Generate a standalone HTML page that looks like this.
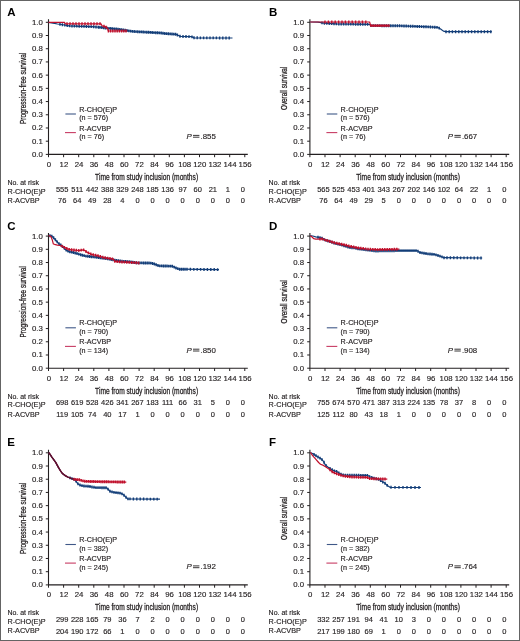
<!DOCTYPE html><html><head><meta charset="utf-8"><style>html,body{margin:0;padding:0;background:#fff;}svg{display:block;will-change:transform}text{stroke:#231f20;stroke-width:0.15px}text.t2{stroke-width:0.28px}text.pl{stroke:none}</style></head><body>
<svg width="520" height="641" viewBox="0 0 520 641" font-family='"Liberation Sans", sans-serif'>
<rect x="0" y="0" width="520" height="641" fill="#fff"/>
<g transform="translate(0.00 0.00)">
<text x="7.20" y="15.90" font-size="11.5" font-weight="bold" fill="#000" class="pl">A</text>
<path d="M48.50 19.30 V154.40 H247.79" fill="none" stroke="#231f20" stroke-width="1.1"/>
<line x1="45.80" y1="154.40" x2="48.50" y2="154.40" stroke="#231f20" stroke-width="1"/>
<text x="42.80" y="156.90" font-size="7.8" text-anchor="end" fill="#231f20">0.0</text>
<line x1="45.80" y1="141.19" x2="48.50" y2="141.19" stroke="#231f20" stroke-width="1"/>
<text x="42.80" y="143.69" font-size="7.8" text-anchor="end" fill="#231f20">0.1</text>
<line x1="45.80" y1="127.98" x2="48.50" y2="127.98" stroke="#231f20" stroke-width="1"/>
<text x="42.80" y="130.48" font-size="7.8" text-anchor="end" fill="#231f20">0.2</text>
<line x1="45.80" y1="114.77" x2="48.50" y2="114.77" stroke="#231f20" stroke-width="1"/>
<text x="42.80" y="117.27" font-size="7.8" text-anchor="end" fill="#231f20">0.3</text>
<line x1="45.80" y1="101.56" x2="48.50" y2="101.56" stroke="#231f20" stroke-width="1"/>
<text x="42.80" y="104.06" font-size="7.8" text-anchor="end" fill="#231f20">0.4</text>
<line x1="45.80" y1="88.35" x2="48.50" y2="88.35" stroke="#231f20" stroke-width="1"/>
<text x="42.80" y="90.85" font-size="7.8" text-anchor="end" fill="#231f20">0.5</text>
<line x1="45.80" y1="75.14" x2="48.50" y2="75.14" stroke="#231f20" stroke-width="1"/>
<text x="42.80" y="77.64" font-size="7.8" text-anchor="end" fill="#231f20">0.6</text>
<line x1="45.80" y1="61.93" x2="48.50" y2="61.93" stroke="#231f20" stroke-width="1"/>
<text x="42.80" y="64.43" font-size="7.8" text-anchor="end" fill="#231f20">0.7</text>
<line x1="45.80" y1="48.72" x2="48.50" y2="48.72" stroke="#231f20" stroke-width="1"/>
<text x="42.80" y="51.22" font-size="7.8" text-anchor="end" fill="#231f20">0.8</text>
<line x1="45.80" y1="35.51" x2="48.50" y2="35.51" stroke="#231f20" stroke-width="1"/>
<text x="42.80" y="38.01" font-size="7.8" text-anchor="end" fill="#231f20">0.9</text>
<line x1="45.80" y1="22.30" x2="48.50" y2="22.30" stroke="#231f20" stroke-width="1"/>
<text x="42.80" y="24.80" font-size="7.8" text-anchor="end" fill="#231f20">1.0</text>
<line x1="48.50" y1="154.40" x2="48.50" y2="157.20" stroke="#231f20" stroke-width="1"/>
<text x="48.80" y="166.8" font-size="7.8" text-anchor="middle" fill="#231f20">0</text>
<line x1="63.60" y1="154.40" x2="63.60" y2="157.20" stroke="#231f20" stroke-width="1"/>
<text x="63.90" y="166.8" font-size="7.8" text-anchor="middle" fill="#231f20">12</text>
<line x1="78.70" y1="154.40" x2="78.70" y2="157.20" stroke="#231f20" stroke-width="1"/>
<text x="79.00" y="166.8" font-size="7.8" text-anchor="middle" fill="#231f20">24</text>
<line x1="93.80" y1="154.40" x2="93.80" y2="157.20" stroke="#231f20" stroke-width="1"/>
<text x="94.10" y="166.8" font-size="7.8" text-anchor="middle" fill="#231f20">36</text>
<line x1="108.90" y1="154.40" x2="108.90" y2="157.20" stroke="#231f20" stroke-width="1"/>
<text x="109.20" y="166.8" font-size="7.8" text-anchor="middle" fill="#231f20">48</text>
<line x1="124.00" y1="154.40" x2="124.00" y2="157.20" stroke="#231f20" stroke-width="1"/>
<text x="124.30" y="166.8" font-size="7.8" text-anchor="middle" fill="#231f20">60</text>
<line x1="139.10" y1="154.40" x2="139.10" y2="157.20" stroke="#231f20" stroke-width="1"/>
<text x="139.40" y="166.8" font-size="7.8" text-anchor="middle" fill="#231f20">72</text>
<line x1="154.20" y1="154.40" x2="154.20" y2="157.20" stroke="#231f20" stroke-width="1"/>
<text x="154.50" y="166.8" font-size="7.8" text-anchor="middle" fill="#231f20">84</text>
<line x1="169.30" y1="154.40" x2="169.30" y2="157.20" stroke="#231f20" stroke-width="1"/>
<text x="169.60" y="166.8" font-size="7.8" text-anchor="middle" fill="#231f20">96</text>
<line x1="184.40" y1="154.40" x2="184.40" y2="157.20" stroke="#231f20" stroke-width="1"/>
<text x="184.70" y="166.8" font-size="7.8" text-anchor="middle" fill="#231f20">108</text>
<line x1="199.50" y1="154.40" x2="199.50" y2="157.20" stroke="#231f20" stroke-width="1"/>
<text x="199.80" y="166.8" font-size="7.8" text-anchor="middle" fill="#231f20">120</text>
<line x1="214.60" y1="154.40" x2="214.60" y2="157.20" stroke="#231f20" stroke-width="1"/>
<text x="214.90" y="166.8" font-size="7.8" text-anchor="middle" fill="#231f20">132</text>
<line x1="229.70" y1="154.40" x2="229.70" y2="157.20" stroke="#231f20" stroke-width="1"/>
<text x="230.00" y="166.8" font-size="7.8" text-anchor="middle" fill="#231f20">144</text>
<line x1="244.79" y1="154.40" x2="244.79" y2="157.20" stroke="#231f20" stroke-width="1"/>
<text x="245.09" y="166.8" font-size="7.8" text-anchor="middle" fill="#231f20">156</text>
<text x="95.10" y="179.8" font-size="8.7" textLength="103.00" lengthAdjust="spacingAndGlyphs" fill="#231f20" class="t2">Time from study inclusion (months)</text>
<text transform="translate(25.60 88.40) rotate(-90)" x="0" y="0" font-size="8.7" text-anchor="middle" textLength="71.3" lengthAdjust="spacingAndGlyphs" fill="#231f20" class="t2">Progression-free survival</text>
<line x1="65.4" y1="114.0" x2="75.9" y2="114.0" stroke="#3f5888" stroke-width="1.1"/>
<line x1="65.0" y1="132.6" x2="75.9" y2="132.6" stroke="#c83c64" stroke-width="1.1"/>
<text x="79.2" y="111.7" font-size="7.2" fill="#231f20">R-CHO(E)P</text>
<text x="79.2" y="120.2" font-size="7.2" fill="#231f20">(n = 576)</text>
<text x="79.2" y="130.7" font-size="7.2" fill="#231f20">R-ACVBP</text>
<text x="79.2" y="139.2" font-size="7.2" fill="#231f20">(n = 76)</text>
<text x="186.4" y="138.8" font-size="7.9" font-style="italic" fill="#231f20">P</text>
<path d="M193.0 135.4h6.4M193.0 137.2h6.4" stroke="#231f20" stroke-width="0.9"/>
<text x="200.5" y="138.8" font-size="7.9" fill="#231f20">.855</text>
<text x="7.40" y="184.8" font-size="7" fill="#231f20">No. at risk</text>
<text x="7.40" y="193.5" font-size="7.25" fill="#231f20">R-CHO(E)P</text>
<text x="7.40" y="202.9" font-size="7.25" fill="#231f20">R-ACVBP</text>
<text x="62.15" y="191.7" font-size="7.5" text-anchor="middle" fill="#231f20">555</text>
<text x="77.22" y="191.7" font-size="7.5" text-anchor="middle" fill="#231f20">511</text>
<text x="92.28" y="191.7" font-size="7.5" text-anchor="middle" fill="#231f20">442</text>
<text x="107.34" y="191.7" font-size="7.5" text-anchor="middle" fill="#231f20">388</text>
<text x="122.41" y="191.7" font-size="7.5" text-anchor="middle" fill="#231f20">329</text>
<text x="137.47" y="191.7" font-size="7.5" text-anchor="middle" fill="#231f20">248</text>
<text x="152.54" y="191.7" font-size="7.5" text-anchor="middle" fill="#231f20">185</text>
<text x="167.60" y="191.7" font-size="7.5" text-anchor="middle" fill="#231f20">136</text>
<text x="182.67" y="191.7" font-size="7.5" text-anchor="middle" fill="#231f20">97</text>
<text x="197.74" y="191.7" font-size="7.5" text-anchor="middle" fill="#231f20">60</text>
<text x="212.80" y="191.7" font-size="7.5" text-anchor="middle" fill="#231f20">21</text>
<text x="227.87" y="191.7" font-size="7.5" text-anchor="middle" fill="#231f20">1</text>
<text x="242.93" y="191.7" font-size="7.5" text-anchor="middle" fill="#231f20">0</text>
<text x="62.15" y="203.0" font-size="7.5" text-anchor="middle" fill="#231f20">76</text>
<text x="77.22" y="203.0" font-size="7.5" text-anchor="middle" fill="#231f20">64</text>
<text x="92.28" y="203.0" font-size="7.5" text-anchor="middle" fill="#231f20">49</text>
<text x="107.34" y="203.0" font-size="7.5" text-anchor="middle" fill="#231f20">28</text>
<text x="122.41" y="203.0" font-size="7.5" text-anchor="middle" fill="#231f20">4</text>
<text x="137.47" y="203.0" font-size="7.5" text-anchor="middle" fill="#231f20">0</text>
<text x="152.54" y="203.0" font-size="7.5" text-anchor="middle" fill="#231f20">0</text>
<text x="167.60" y="203.0" font-size="7.5" text-anchor="middle" fill="#231f20">0</text>
<text x="182.67" y="203.0" font-size="7.5" text-anchor="middle" fill="#231f20">0</text>
<text x="197.74" y="203.0" font-size="7.5" text-anchor="middle" fill="#231f20">0</text>
<text x="212.80" y="203.0" font-size="7.5" text-anchor="middle" fill="#231f20">0</text>
<text x="227.87" y="203.0" font-size="7.5" text-anchor="middle" fill="#231f20">0</text>
<text x="242.93" y="203.0" font-size="7.5" text-anchor="middle" fill="#231f20">0</text>
</g>
<path d="M48.5 22.3 L53.0 23.2 L57.5 24.0 L64.5 25.0 L69.0 25.8 L80.6 26.3 L92.0 26.7 L95.0 26.9 L102.0 27.5 L106.5 28.1 L112.3 28.7 L118.0 29.2 L127.3 30.6 L133.0 31.5 L141.0 31.9 L150.0 32.4 L160.4 32.9 L165.6 33.6 L176.0 34.3 L178.5 35.5 L180.3 36.4 L191.5 36.7 L194.1 37.8 L232.5 38.0" fill="none" stroke="#123d78" stroke-width="1.20" stroke-linejoin="round"/>
<path d="M60.00 22.91v2.90M62.40 23.25v2.90M64.80 23.60v2.90M67.20 24.03v2.90M69.60 24.38v2.90M72.00 24.48v2.90M74.40 24.58v2.90M76.80 24.69v2.90M79.20 24.79v2.90M81.60 24.89v2.90M84.00 24.97v2.90M86.40 25.05v2.90M88.80 25.14v2.90M91.20 25.22v2.90M93.60 25.36v2.90M96.00 25.54v2.90M98.40 25.74v2.90M100.00 25.88v2.90M101.80 26.03v2.90M103.60 26.26v2.90M105.40 26.50v2.90M107.20 26.72v2.90M109.00 26.91v2.90M110.80 27.09v2.90M112.60 27.28v2.90M114.40 27.43v2.90M116.20 27.59v2.90M118.00 27.75v2.90M119.80 28.02v2.90M121.60 28.29v2.90M123.40 28.56v2.90M125.20 28.83v2.90M127.00 29.10v2.90M128.80 29.39v2.90M130.60 29.67v2.90M132.40 29.96v2.90M134.20 30.11v2.90M136.00 30.20v2.90M137.80 30.29v2.90M139.60 30.38v2.90M141.40 30.47v2.90M143.20 30.57v2.90M145.00 30.67v2.90M146.80 30.77v2.90M148.60 30.87v2.90M150.40 30.97v2.90M152.20 31.06v2.90M154.00 31.14v2.90M155.80 31.23v2.90M157.60 31.32v2.90M159.40 31.40v2.90M161.20 31.56v2.90M163.00 31.80v2.90M164.80 32.04v2.90M166.60 32.22v2.90M168.40 32.34v2.90M170.20 32.46v2.90M172.00 32.58v2.90M173.80 32.70v2.90M175.60 32.82v2.90M177.40 33.52v2.90M180.00 34.80v2.90M183.00 35.02v2.90M186.00 35.10v2.90M189.00 35.18v2.90M192.00 35.46v2.90M194.00 36.31v2.90M197.20 36.37v2.90M200.40 36.38v2.90M203.60 36.40v2.90M206.80 36.42v2.90M210.00 36.43v2.90M213.20 36.45v2.90M216.40 36.47v2.90M219.60 36.48v2.90M222.80 36.50v2.90M226.00 36.52v2.90M229.20 36.53v2.90" fill="none" stroke="#123d78" stroke-width="1.40"/>
<path d="M48.5 22.3 L64.5 22.3 L65.0 23.6 L101.0 23.8 L102.0 25.8 L105.0 26.5 L107.7 28.2 L108.2 31.0 L127.3 31.0" fill="none" stroke="#c0102c" stroke-width="1.20" stroke-linejoin="round"/>
<path d="M67.00 22.16v2.90M70.00 22.18v2.90M73.00 22.19v2.90M76.00 22.21v2.90M79.00 22.23v2.90M82.00 22.24v2.90M85.00 22.26v2.90M88.00 22.28v2.90M91.00 22.29v2.90M94.00 22.31v2.90M97.00 22.33v2.90M100.00 22.34v2.90M104.00 24.82v2.90M106.20 25.81v2.90M108.40 29.55v2.90M110.60 29.55v2.90M112.80 29.55v2.90M115.00 29.55v2.90M117.20 29.55v2.90M119.40 29.55v2.90M121.60 29.55v2.90M123.80 29.55v2.90M126.00 29.55v2.90" fill="none" stroke="#c0102c" stroke-width="1.40"/>
<g transform="translate(261.40 0.00)">
<text x="7.70" y="15.90" font-size="11.5" font-weight="bold" fill="#000" class="pl">B</text>
<path d="M48.50 19.30 V154.40 H247.79" fill="none" stroke="#231f20" stroke-width="1.1"/>
<line x1="45.80" y1="154.40" x2="48.50" y2="154.40" stroke="#231f20" stroke-width="1"/>
<text x="42.60" y="156.90" font-size="7.8" text-anchor="end" fill="#231f20">0.0</text>
<line x1="45.80" y1="141.19" x2="48.50" y2="141.19" stroke="#231f20" stroke-width="1"/>
<text x="42.60" y="143.69" font-size="7.8" text-anchor="end" fill="#231f20">0.1</text>
<line x1="45.80" y1="127.98" x2="48.50" y2="127.98" stroke="#231f20" stroke-width="1"/>
<text x="42.60" y="130.48" font-size="7.8" text-anchor="end" fill="#231f20">0.2</text>
<line x1="45.80" y1="114.77" x2="48.50" y2="114.77" stroke="#231f20" stroke-width="1"/>
<text x="42.60" y="117.27" font-size="7.8" text-anchor="end" fill="#231f20">0.3</text>
<line x1="45.80" y1="101.56" x2="48.50" y2="101.56" stroke="#231f20" stroke-width="1"/>
<text x="42.60" y="104.06" font-size="7.8" text-anchor="end" fill="#231f20">0.4</text>
<line x1="45.80" y1="88.35" x2="48.50" y2="88.35" stroke="#231f20" stroke-width="1"/>
<text x="42.60" y="90.85" font-size="7.8" text-anchor="end" fill="#231f20">0.5</text>
<line x1="45.80" y1="75.14" x2="48.50" y2="75.14" stroke="#231f20" stroke-width="1"/>
<text x="42.60" y="77.64" font-size="7.8" text-anchor="end" fill="#231f20">0.6</text>
<line x1="45.80" y1="61.93" x2="48.50" y2="61.93" stroke="#231f20" stroke-width="1"/>
<text x="42.60" y="64.43" font-size="7.8" text-anchor="end" fill="#231f20">0.7</text>
<line x1="45.80" y1="48.72" x2="48.50" y2="48.72" stroke="#231f20" stroke-width="1"/>
<text x="42.60" y="51.22" font-size="7.8" text-anchor="end" fill="#231f20">0.8</text>
<line x1="45.80" y1="35.51" x2="48.50" y2="35.51" stroke="#231f20" stroke-width="1"/>
<text x="42.60" y="38.01" font-size="7.8" text-anchor="end" fill="#231f20">0.9</text>
<line x1="45.80" y1="22.30" x2="48.50" y2="22.30" stroke="#231f20" stroke-width="1"/>
<text x="42.60" y="24.80" font-size="7.8" text-anchor="end" fill="#231f20">1.0</text>
<line x1="48.50" y1="154.40" x2="48.50" y2="157.20" stroke="#231f20" stroke-width="1"/>
<text x="48.80" y="166.8" font-size="7.8" text-anchor="middle" fill="#231f20">0</text>
<line x1="63.60" y1="154.40" x2="63.60" y2="157.20" stroke="#231f20" stroke-width="1"/>
<text x="63.90" y="166.8" font-size="7.8" text-anchor="middle" fill="#231f20">12</text>
<line x1="78.70" y1="154.40" x2="78.70" y2="157.20" stroke="#231f20" stroke-width="1"/>
<text x="79.00" y="166.8" font-size="7.8" text-anchor="middle" fill="#231f20">24</text>
<line x1="93.80" y1="154.40" x2="93.80" y2="157.20" stroke="#231f20" stroke-width="1"/>
<text x="94.10" y="166.8" font-size="7.8" text-anchor="middle" fill="#231f20">36</text>
<line x1="108.90" y1="154.40" x2="108.90" y2="157.20" stroke="#231f20" stroke-width="1"/>
<text x="109.20" y="166.8" font-size="7.8" text-anchor="middle" fill="#231f20">48</text>
<line x1="124.00" y1="154.40" x2="124.00" y2="157.20" stroke="#231f20" stroke-width="1"/>
<text x="124.30" y="166.8" font-size="7.8" text-anchor="middle" fill="#231f20">60</text>
<line x1="139.10" y1="154.40" x2="139.10" y2="157.20" stroke="#231f20" stroke-width="1"/>
<text x="139.40" y="166.8" font-size="7.8" text-anchor="middle" fill="#231f20">72</text>
<line x1="154.20" y1="154.40" x2="154.20" y2="157.20" stroke="#231f20" stroke-width="1"/>
<text x="154.50" y="166.8" font-size="7.8" text-anchor="middle" fill="#231f20">84</text>
<line x1="169.30" y1="154.40" x2="169.30" y2="157.20" stroke="#231f20" stroke-width="1"/>
<text x="169.60" y="166.8" font-size="7.8" text-anchor="middle" fill="#231f20">96</text>
<line x1="184.40" y1="154.40" x2="184.40" y2="157.20" stroke="#231f20" stroke-width="1"/>
<text x="184.70" y="166.8" font-size="7.8" text-anchor="middle" fill="#231f20">108</text>
<line x1="199.50" y1="154.40" x2="199.50" y2="157.20" stroke="#231f20" stroke-width="1"/>
<text x="199.80" y="166.8" font-size="7.8" text-anchor="middle" fill="#231f20">120</text>
<line x1="214.60" y1="154.40" x2="214.60" y2="157.20" stroke="#231f20" stroke-width="1"/>
<text x="214.90" y="166.8" font-size="7.8" text-anchor="middle" fill="#231f20">132</text>
<line x1="229.70" y1="154.40" x2="229.70" y2="157.20" stroke="#231f20" stroke-width="1"/>
<text x="230.00" y="166.8" font-size="7.8" text-anchor="middle" fill="#231f20">144</text>
<line x1="244.79" y1="154.40" x2="244.79" y2="157.20" stroke="#231f20" stroke-width="1"/>
<text x="245.09" y="166.8" font-size="7.8" text-anchor="middle" fill="#231f20">156</text>
<text x="94.90" y="179.8" font-size="8.7" textLength="103.60" lengthAdjust="spacingAndGlyphs" fill="#231f20" class="t2">Time from study inclusion (months)</text>
<text transform="translate(26.00 88.40) rotate(-90)" x="0" y="0" font-size="8.7" text-anchor="middle" textLength="43.3" lengthAdjust="spacingAndGlyphs" fill="#231f20" class="t2">Overall survival</text>
<line x1="65.4" y1="114.0" x2="75.9" y2="114.0" stroke="#3f5888" stroke-width="1.1"/>
<line x1="65.0" y1="132.6" x2="75.9" y2="132.6" stroke="#c83c64" stroke-width="1.1"/>
<text x="79.2" y="111.7" font-size="7.2" fill="#231f20">R-CHO(E)P</text>
<text x="79.2" y="120.2" font-size="7.2" fill="#231f20">(n = 576)</text>
<text x="79.2" y="130.7" font-size="7.2" fill="#231f20">R-ACVBP</text>
<text x="79.2" y="139.2" font-size="7.2" fill="#231f20">(n = 76)</text>
<text x="186.4" y="138.8" font-size="7.9" font-style="italic" fill="#231f20">P</text>
<path d="M193.0 135.4h6.4M193.0 137.2h6.4" stroke="#231f20" stroke-width="0.9"/>
<text x="200.5" y="138.8" font-size="7.9" fill="#231f20">.667</text>
<text x="7.20" y="184.8" font-size="7" fill="#231f20">No. at risk</text>
<text x="7.20" y="193.5" font-size="7.25" fill="#231f20">R-CHO(E)P</text>
<text x="7.20" y="202.9" font-size="7.25" fill="#231f20">R-ACVBP</text>
<text x="62.05" y="191.7" font-size="7.5" text-anchor="middle" fill="#231f20">565</text>
<text x="77.11" y="191.7" font-size="7.5" text-anchor="middle" fill="#231f20">525</text>
<text x="92.18" y="191.7" font-size="7.5" text-anchor="middle" fill="#231f20">453</text>
<text x="107.25" y="191.7" font-size="7.5" text-anchor="middle" fill="#231f20">401</text>
<text x="122.31" y="191.7" font-size="7.5" text-anchor="middle" fill="#231f20">343</text>
<text x="137.38" y="191.7" font-size="7.5" text-anchor="middle" fill="#231f20">267</text>
<text x="152.44" y="191.7" font-size="7.5" text-anchor="middle" fill="#231f20">202</text>
<text x="167.50" y="191.7" font-size="7.5" text-anchor="middle" fill="#231f20">146</text>
<text x="182.57" y="191.7" font-size="7.5" text-anchor="middle" fill="#231f20">102</text>
<text x="197.63" y="191.7" font-size="7.5" text-anchor="middle" fill="#231f20">64</text>
<text x="212.70" y="191.7" font-size="7.5" text-anchor="middle" fill="#231f20">22</text>
<text x="227.76" y="191.7" font-size="7.5" text-anchor="middle" fill="#231f20">1</text>
<text x="242.83" y="191.7" font-size="7.5" text-anchor="middle" fill="#231f20">0</text>
<text x="62.05" y="203.0" font-size="7.5" text-anchor="middle" fill="#231f20">76</text>
<text x="77.11" y="203.0" font-size="7.5" text-anchor="middle" fill="#231f20">64</text>
<text x="92.18" y="203.0" font-size="7.5" text-anchor="middle" fill="#231f20">49</text>
<text x="107.25" y="203.0" font-size="7.5" text-anchor="middle" fill="#231f20">29</text>
<text x="122.31" y="203.0" font-size="7.5" text-anchor="middle" fill="#231f20">5</text>
<text x="137.38" y="203.0" font-size="7.5" text-anchor="middle" fill="#231f20">0</text>
<text x="152.44" y="203.0" font-size="7.5" text-anchor="middle" fill="#231f20">0</text>
<text x="167.50" y="203.0" font-size="7.5" text-anchor="middle" fill="#231f20">0</text>
<text x="182.57" y="203.0" font-size="7.5" text-anchor="middle" fill="#231f20">0</text>
<text x="197.63" y="203.0" font-size="7.5" text-anchor="middle" fill="#231f20">0</text>
<text x="212.70" y="203.0" font-size="7.5" text-anchor="middle" fill="#231f20">0</text>
<text x="227.76" y="203.0" font-size="7.5" text-anchor="middle" fill="#231f20">0</text>
<text x="242.83" y="203.0" font-size="7.5" text-anchor="middle" fill="#231f20">0</text>
</g>
<path d="M310.2 22.0 L318.0 22.2 L324.0 23.2 L336.0 23.9 L369.4 24.4 L370.5 25.6 L400.0 25.8 L424.0 26.7 L438.0 27.4 L441.0 29.2 L443.4 31.1 L445.7 31.7 L491.8 31.7" fill="none" stroke="#123d78" stroke-width="1.20" stroke-linejoin="round"/>
<path d="M322.00 21.42v2.90M324.40 21.77v2.90M326.80 21.91v2.90M329.20 22.05v2.90M331.60 22.19v2.90M334.00 22.33v2.90M336.40 22.46v2.90M338.80 22.49v2.90M341.20 22.53v2.90M343.60 22.56v2.90M346.00 22.60v2.90M348.40 22.64v2.90M350.80 22.67v2.90M353.20 22.71v2.90M355.60 22.74v2.90M358.00 22.78v2.90M360.40 22.82v2.90M362.80 22.85v2.90M365.20 22.89v2.90M367.60 22.92v2.90M371.00 24.15v2.90M373.20 24.17v2.90M375.40 24.18v2.90M377.60 24.20v2.90M379.80 24.21v2.90M382.00 24.23v2.90M384.20 24.24v2.90M386.40 24.26v2.90M388.60 24.27v2.90M390.80 24.29v2.90M393.00 24.30v2.90M395.20 24.32v2.90M397.40 24.33v2.90M399.60 24.35v2.90M401.80 24.42v2.90M404.00 24.50v2.90M406.20 24.58v2.90M408.40 24.66v2.90M410.60 24.75v2.90M412.80 24.83v2.90M415.00 24.91v2.90M417.20 24.99v2.90M419.40 25.08v2.90M421.60 25.16v2.90M423.80 25.24v2.90M426.00 25.35v2.90M428.20 25.46v2.90M430.40 25.57v2.90M432.60 25.68v2.90M434.80 25.79v2.90M437.00 25.90v2.90M439.20 26.67v2.90M446.00 30.25v2.90M449.20 30.25v2.90M452.40 30.25v2.90M455.60 30.25v2.90M458.80 30.25v2.90M462.00 30.25v2.90M465.20 30.25v2.90M468.40 30.25v2.90M471.60 30.25v2.90M474.80 30.25v2.90M478.00 30.25v2.90M481.20 30.25v2.90M484.40 30.25v2.90M487.60 30.25v2.90M490.80 30.25v2.90" fill="none" stroke="#123d78" stroke-width="1.40"/>
<path d="M310.2 22.0 L369.6 22.0 L370.6 25.6 L388.5 25.6" fill="none" stroke="#c0102c" stroke-width="1.20" stroke-linejoin="round"/>
<path d="M325.00 20.55v2.90M328.40 20.55v2.90M331.80 20.55v2.90M335.20 20.55v2.90M338.60 20.55v2.90M342.00 20.55v2.90M345.40 20.55v2.90M348.80 20.55v2.90M352.20 20.55v2.90M355.60 20.55v2.90M359.00 20.55v2.90M362.40 20.55v2.90M365.80 20.55v2.90M371.00 24.15v2.90M373.00 24.15v2.90M375.00 24.15v2.90M377.00 24.15v2.90M379.00 24.15v2.90M381.00 24.15v2.90M383.00 24.15v2.90M385.00 24.15v2.90M387.00 24.15v2.90M389.00 24.15v2.90" fill="none" stroke="#c0102c" stroke-width="1.40"/>
<g transform="translate(0.00 213.80)">
<text x="7.20" y="15.90" font-size="11.5" font-weight="bold" fill="#000" class="pl">C</text>
<path d="M48.50 19.30 V154.40 H247.79" fill="none" stroke="#231f20" stroke-width="1.1"/>
<line x1="45.80" y1="154.40" x2="48.50" y2="154.40" stroke="#231f20" stroke-width="1"/>
<text x="42.80" y="156.90" font-size="7.8" text-anchor="end" fill="#231f20">0.0</text>
<line x1="45.80" y1="141.19" x2="48.50" y2="141.19" stroke="#231f20" stroke-width="1"/>
<text x="42.80" y="143.69" font-size="7.8" text-anchor="end" fill="#231f20">0.1</text>
<line x1="45.80" y1="127.98" x2="48.50" y2="127.98" stroke="#231f20" stroke-width="1"/>
<text x="42.80" y="130.48" font-size="7.8" text-anchor="end" fill="#231f20">0.2</text>
<line x1="45.80" y1="114.77" x2="48.50" y2="114.77" stroke="#231f20" stroke-width="1"/>
<text x="42.80" y="117.27" font-size="7.8" text-anchor="end" fill="#231f20">0.3</text>
<line x1="45.80" y1="101.56" x2="48.50" y2="101.56" stroke="#231f20" stroke-width="1"/>
<text x="42.80" y="104.06" font-size="7.8" text-anchor="end" fill="#231f20">0.4</text>
<line x1="45.80" y1="88.35" x2="48.50" y2="88.35" stroke="#231f20" stroke-width="1"/>
<text x="42.80" y="90.85" font-size="7.8" text-anchor="end" fill="#231f20">0.5</text>
<line x1="45.80" y1="75.14" x2="48.50" y2="75.14" stroke="#231f20" stroke-width="1"/>
<text x="42.80" y="77.64" font-size="7.8" text-anchor="end" fill="#231f20">0.6</text>
<line x1="45.80" y1="61.93" x2="48.50" y2="61.93" stroke="#231f20" stroke-width="1"/>
<text x="42.80" y="64.43" font-size="7.8" text-anchor="end" fill="#231f20">0.7</text>
<line x1="45.80" y1="48.72" x2="48.50" y2="48.72" stroke="#231f20" stroke-width="1"/>
<text x="42.80" y="51.22" font-size="7.8" text-anchor="end" fill="#231f20">0.8</text>
<line x1="45.80" y1="35.51" x2="48.50" y2="35.51" stroke="#231f20" stroke-width="1"/>
<text x="42.80" y="38.01" font-size="7.8" text-anchor="end" fill="#231f20">0.9</text>
<line x1="45.80" y1="22.30" x2="48.50" y2="22.30" stroke="#231f20" stroke-width="1"/>
<text x="42.80" y="24.80" font-size="7.8" text-anchor="end" fill="#231f20">1.0</text>
<line x1="48.50" y1="154.40" x2="48.50" y2="157.20" stroke="#231f20" stroke-width="1"/>
<text x="48.80" y="166.8" font-size="7.8" text-anchor="middle" fill="#231f20">0</text>
<line x1="63.60" y1="154.40" x2="63.60" y2="157.20" stroke="#231f20" stroke-width="1"/>
<text x="63.90" y="166.8" font-size="7.8" text-anchor="middle" fill="#231f20">12</text>
<line x1="78.70" y1="154.40" x2="78.70" y2="157.20" stroke="#231f20" stroke-width="1"/>
<text x="79.00" y="166.8" font-size="7.8" text-anchor="middle" fill="#231f20">24</text>
<line x1="93.80" y1="154.40" x2="93.80" y2="157.20" stroke="#231f20" stroke-width="1"/>
<text x="94.10" y="166.8" font-size="7.8" text-anchor="middle" fill="#231f20">36</text>
<line x1="108.90" y1="154.40" x2="108.90" y2="157.20" stroke="#231f20" stroke-width="1"/>
<text x="109.20" y="166.8" font-size="7.8" text-anchor="middle" fill="#231f20">48</text>
<line x1="124.00" y1="154.40" x2="124.00" y2="157.20" stroke="#231f20" stroke-width="1"/>
<text x="124.30" y="166.8" font-size="7.8" text-anchor="middle" fill="#231f20">60</text>
<line x1="139.10" y1="154.40" x2="139.10" y2="157.20" stroke="#231f20" stroke-width="1"/>
<text x="139.40" y="166.8" font-size="7.8" text-anchor="middle" fill="#231f20">72</text>
<line x1="154.20" y1="154.40" x2="154.20" y2="157.20" stroke="#231f20" stroke-width="1"/>
<text x="154.50" y="166.8" font-size="7.8" text-anchor="middle" fill="#231f20">84</text>
<line x1="169.30" y1="154.40" x2="169.30" y2="157.20" stroke="#231f20" stroke-width="1"/>
<text x="169.60" y="166.8" font-size="7.8" text-anchor="middle" fill="#231f20">96</text>
<line x1="184.40" y1="154.40" x2="184.40" y2="157.20" stroke="#231f20" stroke-width="1"/>
<text x="184.70" y="166.8" font-size="7.8" text-anchor="middle" fill="#231f20">108</text>
<line x1="199.50" y1="154.40" x2="199.50" y2="157.20" stroke="#231f20" stroke-width="1"/>
<text x="199.80" y="166.8" font-size="7.8" text-anchor="middle" fill="#231f20">120</text>
<line x1="214.60" y1="154.40" x2="214.60" y2="157.20" stroke="#231f20" stroke-width="1"/>
<text x="214.90" y="166.8" font-size="7.8" text-anchor="middle" fill="#231f20">132</text>
<line x1="229.70" y1="154.40" x2="229.70" y2="157.20" stroke="#231f20" stroke-width="1"/>
<text x="230.00" y="166.8" font-size="7.8" text-anchor="middle" fill="#231f20">144</text>
<line x1="244.79" y1="154.40" x2="244.79" y2="157.20" stroke="#231f20" stroke-width="1"/>
<text x="245.09" y="166.8" font-size="7.8" text-anchor="middle" fill="#231f20">156</text>
<text x="95.10" y="179.8" font-size="8.7" textLength="103.00" lengthAdjust="spacingAndGlyphs" fill="#231f20" class="t2">Time from study inclusion (months)</text>
<text transform="translate(25.60 88.00) rotate(-90)" x="0" y="0" font-size="8.7" text-anchor="middle" textLength="71.3" lengthAdjust="spacingAndGlyphs" fill="#231f20" class="t2">Progression-free survival</text>
<line x1="65.4" y1="114.0" x2="75.9" y2="114.0" stroke="#3f5888" stroke-width="1.1"/>
<line x1="65.0" y1="132.6" x2="75.9" y2="132.6" stroke="#c83c64" stroke-width="1.1"/>
<text x="79.2" y="111.7" font-size="7.2" fill="#231f20">R-CHO(E)P</text>
<text x="79.2" y="120.2" font-size="7.2" fill="#231f20">(n = 790)</text>
<text x="79.2" y="130.7" font-size="7.2" fill="#231f20">R-ACVBP</text>
<text x="79.2" y="139.2" font-size="7.2" fill="#231f20">(n = 134)</text>
<text x="186.4" y="138.8" font-size="7.9" font-style="italic" fill="#231f20">P</text>
<path d="M193.0 135.4h6.4M193.0 137.2h6.4" stroke="#231f20" stroke-width="0.9"/>
<text x="200.5" y="138.8" font-size="7.9" fill="#231f20">.850</text>
<text x="7.40" y="184.8" font-size="7" fill="#231f20">No. at risk</text>
<text x="7.40" y="193.5" font-size="7.25" fill="#231f20">R-CHO(E)P</text>
<text x="7.40" y="202.9" font-size="7.25" fill="#231f20">R-ACVBP</text>
<text x="62.15" y="191.7" font-size="7.5" text-anchor="middle" fill="#231f20">698</text>
<text x="77.22" y="191.7" font-size="7.5" text-anchor="middle" fill="#231f20">619</text>
<text x="92.28" y="191.7" font-size="7.5" text-anchor="middle" fill="#231f20">528</text>
<text x="107.34" y="191.7" font-size="7.5" text-anchor="middle" fill="#231f20">426</text>
<text x="122.41" y="191.7" font-size="7.5" text-anchor="middle" fill="#231f20">341</text>
<text x="137.47" y="191.7" font-size="7.5" text-anchor="middle" fill="#231f20">267</text>
<text x="152.54" y="191.7" font-size="7.5" text-anchor="middle" fill="#231f20">183</text>
<text x="167.60" y="191.7" font-size="7.5" text-anchor="middle" fill="#231f20">111</text>
<text x="182.67" y="191.7" font-size="7.5" text-anchor="middle" fill="#231f20">66</text>
<text x="197.74" y="191.7" font-size="7.5" text-anchor="middle" fill="#231f20">31</text>
<text x="212.80" y="191.7" font-size="7.5" text-anchor="middle" fill="#231f20">5</text>
<text x="227.87" y="191.7" font-size="7.5" text-anchor="middle" fill="#231f20">0</text>
<text x="242.93" y="191.7" font-size="7.5" text-anchor="middle" fill="#231f20">0</text>
<text x="62.15" y="203.0" font-size="7.5" text-anchor="middle" fill="#231f20">119</text>
<text x="77.22" y="203.0" font-size="7.5" text-anchor="middle" fill="#231f20">105</text>
<text x="92.28" y="203.0" font-size="7.5" text-anchor="middle" fill="#231f20">74</text>
<text x="107.34" y="203.0" font-size="7.5" text-anchor="middle" fill="#231f20">40</text>
<text x="122.41" y="203.0" font-size="7.5" text-anchor="middle" fill="#231f20">17</text>
<text x="137.47" y="203.0" font-size="7.5" text-anchor="middle" fill="#231f20">1</text>
<text x="152.54" y="203.0" font-size="7.5" text-anchor="middle" fill="#231f20">0</text>
<text x="167.60" y="203.0" font-size="7.5" text-anchor="middle" fill="#231f20">0</text>
<text x="182.67" y="203.0" font-size="7.5" text-anchor="middle" fill="#231f20">0</text>
<text x="197.74" y="203.0" font-size="7.5" text-anchor="middle" fill="#231f20">0</text>
<text x="212.80" y="203.0" font-size="7.5" text-anchor="middle" fill="#231f20">0</text>
<text x="227.87" y="203.0" font-size="7.5" text-anchor="middle" fill="#231f20">0</text>
<text x="242.93" y="203.0" font-size="7.5" text-anchor="middle" fill="#231f20">0</text>
</g>
<path d="M48.7 235.5 L51.8 236.2 L53.7 237.8 L56.0 240.5 L58.3 243.2 L61.4 245.5 L64.5 248.5 L66.0 250.0 L69.0 251.6 L72.9 252.4 L76.8 253.5 L80.6 254.7 L85.8 256.1 L91.5 256.7 L97.3 257.3 L103.0 258.1 L108.8 259.0 L114.6 260.1 L120.4 261.1 L126.1 261.5 L131.9 262.1 L136.0 262.8 L151.2 263.1 L154.6 264.1 L158.9 265.8 L172.4 266.2 L175.8 267.9 L179.2 269.2 L219.0 269.6" fill="none" stroke="#123d78" stroke-width="1.20" stroke-linejoin="round"/>
<path d="M50.00 234.34v2.90M51.80 234.75v2.90M53.60 236.27v2.90M55.40 238.35v2.90M57.20 240.46v2.90M59.00 242.27v2.90M60.80 243.60v2.90M62.60 245.21v2.90M64.40 246.95v2.90M66.20 248.66v2.90M68.00 249.62v2.90M69.80 250.31v2.90M71.60 250.68v2.90M73.40 251.09v2.90M75.20 251.60v2.90M77.00 252.11v2.90M78.80 252.68v2.90M80.60 253.25v2.90M82.40 253.73v2.90M84.20 254.22v2.90M86.00 254.67v2.90M87.80 254.86v2.90M89.60 255.05v2.90M91.40 255.24v2.90M93.20 255.43v2.90M95.00 255.61v2.90M96.80 255.80v2.90M98.60 256.03v2.90M100.40 256.29v2.90M102.20 256.54v2.90M104.00 256.81v2.90M105.80 257.08v2.90M107.60 257.36v2.90M109.40 257.66v2.90M111.20 258.01v2.90M113.00 258.35v2.90M114.80 258.68v2.90M116.60 258.99v2.90M118.40 259.31v2.90M120.20 259.62v2.90M122.00 259.76v2.90M123.80 259.89v2.90M125.60 260.01v2.90M127.40 260.18v2.90M129.20 260.37v2.90M131.00 260.56v2.90M132.80 260.80v2.90M134.60 261.11v2.90M136.40 261.36v2.90M138.20 261.39v2.90M140.00 261.43v2.90M141.80 261.46v2.90M143.60 261.50v2.90M145.40 261.54v2.90M147.20 261.57v2.90M149.00 261.61v2.90M150.80 261.64v2.90M152.60 262.06v2.90M154.40 262.59v2.90M156.20 263.28v2.90M158.00 263.99v2.90M159.80 264.38v2.90M161.60 264.43v2.90M163.40 264.48v2.90M165.20 264.54v2.90M167.00 264.59v2.90M168.80 264.64v2.90M170.60 264.70v2.90M172.40 264.75v2.90M174.20 265.65v2.90M176.00 266.53v2.90M177.80 267.21v2.90M179.60 267.75v2.90M181.40 267.77v2.90M183.20 267.79v2.90M185.00 267.81v2.90M187.00 267.83v2.90M190.40 267.86v2.90M193.80 267.90v2.90M197.20 267.93v2.90M200.60 267.97v2.90M204.00 268.00v2.90M207.40 268.03v2.90M210.80 268.07v2.90M214.20 268.10v2.90M217.60 268.14v2.90" fill="none" stroke="#123d78" stroke-width="1.40"/>
<path d="M48.7 235.5 L51.0 236.6 L52.2 239.7 L53.3 243.9 L54.5 244.3 L57.5 245.1 L59.8 245.5 L62.2 246.2 L64.5 247.4 L67.5 248.9 L70.6 249.7 L74.5 250.1 L78.3 250.5 L80.0 250.3 L83.5 249.8 L86.9 252.1 L91.5 254.4 L97.3 255.5 L103.0 257.3 L108.8 258.4 L113.4 259.0 L114.6 261.3 L120.4 261.9 L126.1 262.2 L131.9 262.5 L139.0 263.0" fill="none" stroke="#c0102c" stroke-width="1.20" stroke-linejoin="round"/>
<path d="M62.00 244.69v2.90M64.40 245.90v2.90M66.80 247.10v2.90M69.20 247.89v2.90M71.60 248.35v2.90M74.00 248.60v2.90M76.40 248.85v2.90M78.80 248.99v2.90M81.20 248.68v2.90M83.60 248.42v2.90M86.00 250.04v2.90M88.40 251.40v2.90M90.80 252.60v2.90M93.20 253.27v2.90M95.60 253.73v2.90M98.00 254.27v2.90M100.40 255.03v2.90M102.80 255.79v2.90M105.20 256.27v2.90M107.60 256.72v2.90M110.00 257.11v2.90M112.40 257.42v2.90M114.80 259.87v2.90M117.20 260.12v2.90M119.60 260.37v2.90M122.00 260.53v2.90M124.40 260.66v2.90M126.80 260.79v2.90M129.20 260.91v2.90M131.60 261.03v2.90M134.00 261.20v2.90M136.40 261.37v2.90M138.80 261.54v2.90" fill="none" stroke="#c0102c" stroke-width="1.40"/>
<g transform="translate(261.40 213.80)">
<text x="7.70" y="15.90" font-size="11.5" font-weight="bold" fill="#000" class="pl">D</text>
<path d="M48.50 19.30 V154.40 H247.79" fill="none" stroke="#231f20" stroke-width="1.1"/>
<line x1="45.80" y1="154.40" x2="48.50" y2="154.40" stroke="#231f20" stroke-width="1"/>
<text x="42.60" y="156.90" font-size="7.8" text-anchor="end" fill="#231f20">0.0</text>
<line x1="45.80" y1="141.19" x2="48.50" y2="141.19" stroke="#231f20" stroke-width="1"/>
<text x="42.60" y="143.69" font-size="7.8" text-anchor="end" fill="#231f20">0.1</text>
<line x1="45.80" y1="127.98" x2="48.50" y2="127.98" stroke="#231f20" stroke-width="1"/>
<text x="42.60" y="130.48" font-size="7.8" text-anchor="end" fill="#231f20">0.2</text>
<line x1="45.80" y1="114.77" x2="48.50" y2="114.77" stroke="#231f20" stroke-width="1"/>
<text x="42.60" y="117.27" font-size="7.8" text-anchor="end" fill="#231f20">0.3</text>
<line x1="45.80" y1="101.56" x2="48.50" y2="101.56" stroke="#231f20" stroke-width="1"/>
<text x="42.60" y="104.06" font-size="7.8" text-anchor="end" fill="#231f20">0.4</text>
<line x1="45.80" y1="88.35" x2="48.50" y2="88.35" stroke="#231f20" stroke-width="1"/>
<text x="42.60" y="90.85" font-size="7.8" text-anchor="end" fill="#231f20">0.5</text>
<line x1="45.80" y1="75.14" x2="48.50" y2="75.14" stroke="#231f20" stroke-width="1"/>
<text x="42.60" y="77.64" font-size="7.8" text-anchor="end" fill="#231f20">0.6</text>
<line x1="45.80" y1="61.93" x2="48.50" y2="61.93" stroke="#231f20" stroke-width="1"/>
<text x="42.60" y="64.43" font-size="7.8" text-anchor="end" fill="#231f20">0.7</text>
<line x1="45.80" y1="48.72" x2="48.50" y2="48.72" stroke="#231f20" stroke-width="1"/>
<text x="42.60" y="51.22" font-size="7.8" text-anchor="end" fill="#231f20">0.8</text>
<line x1="45.80" y1="35.51" x2="48.50" y2="35.51" stroke="#231f20" stroke-width="1"/>
<text x="42.60" y="38.01" font-size="7.8" text-anchor="end" fill="#231f20">0.9</text>
<line x1="45.80" y1="22.30" x2="48.50" y2="22.30" stroke="#231f20" stroke-width="1"/>
<text x="42.60" y="24.80" font-size="7.8" text-anchor="end" fill="#231f20">1.0</text>
<line x1="48.50" y1="154.40" x2="48.50" y2="157.20" stroke="#231f20" stroke-width="1"/>
<text x="48.80" y="166.8" font-size="7.8" text-anchor="middle" fill="#231f20">0</text>
<line x1="63.60" y1="154.40" x2="63.60" y2="157.20" stroke="#231f20" stroke-width="1"/>
<text x="63.90" y="166.8" font-size="7.8" text-anchor="middle" fill="#231f20">12</text>
<line x1="78.70" y1="154.40" x2="78.70" y2="157.20" stroke="#231f20" stroke-width="1"/>
<text x="79.00" y="166.8" font-size="7.8" text-anchor="middle" fill="#231f20">24</text>
<line x1="93.80" y1="154.40" x2="93.80" y2="157.20" stroke="#231f20" stroke-width="1"/>
<text x="94.10" y="166.8" font-size="7.8" text-anchor="middle" fill="#231f20">36</text>
<line x1="108.90" y1="154.40" x2="108.90" y2="157.20" stroke="#231f20" stroke-width="1"/>
<text x="109.20" y="166.8" font-size="7.8" text-anchor="middle" fill="#231f20">48</text>
<line x1="124.00" y1="154.40" x2="124.00" y2="157.20" stroke="#231f20" stroke-width="1"/>
<text x="124.30" y="166.8" font-size="7.8" text-anchor="middle" fill="#231f20">60</text>
<line x1="139.10" y1="154.40" x2="139.10" y2="157.20" stroke="#231f20" stroke-width="1"/>
<text x="139.40" y="166.8" font-size="7.8" text-anchor="middle" fill="#231f20">72</text>
<line x1="154.20" y1="154.40" x2="154.20" y2="157.20" stroke="#231f20" stroke-width="1"/>
<text x="154.50" y="166.8" font-size="7.8" text-anchor="middle" fill="#231f20">84</text>
<line x1="169.30" y1="154.40" x2="169.30" y2="157.20" stroke="#231f20" stroke-width="1"/>
<text x="169.60" y="166.8" font-size="7.8" text-anchor="middle" fill="#231f20">96</text>
<line x1="184.40" y1="154.40" x2="184.40" y2="157.20" stroke="#231f20" stroke-width="1"/>
<text x="184.70" y="166.8" font-size="7.8" text-anchor="middle" fill="#231f20">108</text>
<line x1="199.50" y1="154.40" x2="199.50" y2="157.20" stroke="#231f20" stroke-width="1"/>
<text x="199.80" y="166.8" font-size="7.8" text-anchor="middle" fill="#231f20">120</text>
<line x1="214.60" y1="154.40" x2="214.60" y2="157.20" stroke="#231f20" stroke-width="1"/>
<text x="214.90" y="166.8" font-size="7.8" text-anchor="middle" fill="#231f20">132</text>
<line x1="229.70" y1="154.40" x2="229.70" y2="157.20" stroke="#231f20" stroke-width="1"/>
<text x="230.00" y="166.8" font-size="7.8" text-anchor="middle" fill="#231f20">144</text>
<line x1="244.79" y1="154.40" x2="244.79" y2="157.20" stroke="#231f20" stroke-width="1"/>
<text x="245.09" y="166.8" font-size="7.8" text-anchor="middle" fill="#231f20">156</text>
<text x="94.90" y="179.8" font-size="8.7" textLength="103.60" lengthAdjust="spacingAndGlyphs" fill="#231f20" class="t2">Time from study inclusion (months)</text>
<text transform="translate(26.00 88.00) rotate(-90)" x="0" y="0" font-size="8.7" text-anchor="middle" textLength="43.3" lengthAdjust="spacingAndGlyphs" fill="#231f20" class="t2">Overall survival</text>
<line x1="65.4" y1="114.0" x2="75.9" y2="114.0" stroke="#3f5888" stroke-width="1.1"/>
<line x1="65.0" y1="132.6" x2="75.9" y2="132.6" stroke="#c83c64" stroke-width="1.1"/>
<text x="79.2" y="111.7" font-size="7.2" fill="#231f20">R-CHO(E)P</text>
<text x="79.2" y="120.2" font-size="7.2" fill="#231f20">(n = 790)</text>
<text x="79.2" y="130.7" font-size="7.2" fill="#231f20">R-ACVBP</text>
<text x="79.2" y="139.2" font-size="7.2" fill="#231f20">(n = 134)</text>
<text x="186.4" y="138.8" font-size="7.9" font-style="italic" fill="#231f20">P</text>
<path d="M193.0 135.4h6.4M193.0 137.2h6.4" stroke="#231f20" stroke-width="0.9"/>
<text x="200.5" y="138.8" font-size="7.9" fill="#231f20">.908</text>
<text x="7.20" y="184.8" font-size="7" fill="#231f20">No. at risk</text>
<text x="7.20" y="193.5" font-size="7.25" fill="#231f20">R-CHO(E)P</text>
<text x="7.20" y="202.9" font-size="7.25" fill="#231f20">R-ACVBP</text>
<text x="62.05" y="191.7" font-size="7.5" text-anchor="middle" fill="#231f20">755</text>
<text x="77.11" y="191.7" font-size="7.5" text-anchor="middle" fill="#231f20">674</text>
<text x="92.18" y="191.7" font-size="7.5" text-anchor="middle" fill="#231f20">570</text>
<text x="107.25" y="191.7" font-size="7.5" text-anchor="middle" fill="#231f20">471</text>
<text x="122.31" y="191.7" font-size="7.5" text-anchor="middle" fill="#231f20">387</text>
<text x="137.38" y="191.7" font-size="7.5" text-anchor="middle" fill="#231f20">313</text>
<text x="152.44" y="191.7" font-size="7.5" text-anchor="middle" fill="#231f20">224</text>
<text x="167.50" y="191.7" font-size="7.5" text-anchor="middle" fill="#231f20">135</text>
<text x="182.57" y="191.7" font-size="7.5" text-anchor="middle" fill="#231f20">78</text>
<text x="197.63" y="191.7" font-size="7.5" text-anchor="middle" fill="#231f20">37</text>
<text x="212.70" y="191.7" font-size="7.5" text-anchor="middle" fill="#231f20">8</text>
<text x="227.76" y="191.7" font-size="7.5" text-anchor="middle" fill="#231f20">0</text>
<text x="242.83" y="191.7" font-size="7.5" text-anchor="middle" fill="#231f20">0</text>
<text x="62.05" y="203.0" font-size="7.5" text-anchor="middle" fill="#231f20">125</text>
<text x="77.11" y="203.0" font-size="7.5" text-anchor="middle" fill="#231f20">112</text>
<text x="92.18" y="203.0" font-size="7.5" text-anchor="middle" fill="#231f20">80</text>
<text x="107.25" y="203.0" font-size="7.5" text-anchor="middle" fill="#231f20">43</text>
<text x="122.31" y="203.0" font-size="7.5" text-anchor="middle" fill="#231f20">18</text>
<text x="137.38" y="203.0" font-size="7.5" text-anchor="middle" fill="#231f20">1</text>
<text x="152.44" y="203.0" font-size="7.5" text-anchor="middle" fill="#231f20">0</text>
<text x="167.50" y="203.0" font-size="7.5" text-anchor="middle" fill="#231f20">0</text>
<text x="182.57" y="203.0" font-size="7.5" text-anchor="middle" fill="#231f20">0</text>
<text x="197.63" y="203.0" font-size="7.5" text-anchor="middle" fill="#231f20">0</text>
<text x="212.70" y="203.0" font-size="7.5" text-anchor="middle" fill="#231f20">0</text>
<text x="227.76" y="203.0" font-size="7.5" text-anchor="middle" fill="#231f20">0</text>
<text x="242.83" y="203.0" font-size="7.5" text-anchor="middle" fill="#231f20">0</text>
</g>
<path d="M310.1 235.7 L312.8 236.0 L315.7 236.8 L318.6 237.3 L322.4 238.3 L325.3 240.2 L330.1 241.6 L334.9 243.3 L339.7 244.5 L344.5 245.9 L349.3 247.4 L354.2 247.9 L358.0 248.8 L374.6 251.0 L398.8 250.6 L417.2 250.6 L419.4 252.4 L427.3 253.8 L434.5 254.4 L438.1 255.5 L441.7 256.7 L443.9 257.7 L482.2 258.0" fill="none" stroke="#123d78" stroke-width="1.20" stroke-linejoin="round"/>
<path d="M318.00 235.75v2.90M320.00 236.22v2.90M322.00 236.74v2.90M324.00 237.90v2.90M326.00 238.95v2.90M328.00 239.54v2.90M330.00 240.12v2.90M332.00 240.82v2.90M334.00 241.53v2.90M336.00 242.13v2.90M338.00 242.63v2.90M340.00 243.14v2.90M342.00 243.72v2.90M344.00 244.30v2.90M346.00 244.92v2.90M348.00 245.54v2.90M350.00 246.02v2.90M352.00 246.23v2.90M354.00 246.43v2.90M356.00 246.88v2.90M358.00 247.35v2.90M360.00 247.62v2.90M362.00 247.88v2.90M364.00 248.15v2.90M366.00 248.41v2.90M368.00 248.68v2.90M370.00 248.94v2.90M372.00 249.21v2.90M374.00 249.47v2.90M376.00 249.53v2.90M378.00 249.49v2.90M380.00 249.46v2.90M382.00 249.43v2.90M384.00 249.39v2.90M386.00 249.36v2.90M388.00 249.33v2.90M390.00 249.30v2.90M392.00 249.26v2.90M394.00 249.23v2.90M396.00 249.20v2.90M398.00 249.16v2.90M400.00 249.15v2.90M402.00 249.15v2.90M404.00 249.15v2.90M406.00 249.15v2.90M408.00 249.15v2.90M410.00 249.15v2.90M412.00 249.15v2.90M414.00 249.15v2.90M416.00 249.15v2.90M418.00 249.80v2.90M420.00 251.06v2.90M422.00 251.41v2.90M424.00 251.77v2.90M426.00 252.12v2.90M428.00 252.41v2.90M430.00 252.58v2.90M432.00 252.74v2.90M434.00 252.91v2.90M436.00 253.41v2.90M438.00 254.02v2.90M440.00 254.68v2.90M442.00 255.39v2.90M444.00 256.25v2.90M447.00 256.27v2.90M450.40 256.30v2.90M453.80 256.33v2.90M457.20 256.35v2.90M460.60 256.38v2.90M464.00 256.41v2.90M467.40 256.43v2.90M470.80 256.46v2.90M474.20 256.49v2.90M477.60 256.51v2.90M481.00 256.54v2.90" fill="none" stroke="#123d78" stroke-width="1.40"/>
<path d="M310.1 235.7 L311.8 236.8 L313.8 238.7 L315.7 239.2 L319.5 239.2 L321.5 238.7 L325.3 240.0 L330.1 241.4 L334.9 242.9 L339.7 243.8 L344.5 244.8 L349.3 246.1 L354.2 247.1 L358.0 247.9 L366.5 249.0 L378.0 249.6 L399.4 249.2" fill="none" stroke="#c0102c" stroke-width="1.20" stroke-linejoin="round"/>
<path d="M320.00 237.62v2.90M322.40 237.56v2.90M324.80 238.38v2.90M327.20 239.10v2.90M329.60 239.80v2.90M332.00 240.54v2.90M334.40 241.29v2.90M336.80 241.81v2.90M339.20 242.26v2.90M341.60 242.75v2.90M344.00 243.25v2.90M346.40 243.86v2.90M348.80 244.51v2.90M351.20 245.04v2.90M353.60 245.53v2.90M356.00 246.03v2.90M358.40 246.50v2.90M360.80 246.81v2.90M363.20 247.12v2.90M365.60 247.43v2.90M368.00 247.63v2.90M370.40 247.75v2.90M372.80 247.88v2.90M375.20 248.00v2.90M377.60 248.13v2.90M380.00 248.11v2.90M382.40 248.07v2.90M384.80 248.02v2.90M387.20 247.98v2.90M389.60 247.93v2.90M392.00 247.89v2.90M394.40 247.84v2.90M396.80 247.80v2.90" fill="none" stroke="#c0102c" stroke-width="1.40"/>
<g transform="translate(0.00 430.50)">
<text x="7.20" y="15.30" font-size="11.5" font-weight="bold" fill="#000" class="pl">E</text>
<path d="M48.50 19.30 V154.40 H247.79" fill="none" stroke="#231f20" stroke-width="1.1"/>
<line x1="45.80" y1="154.40" x2="48.50" y2="154.40" stroke="#231f20" stroke-width="1"/>
<text x="42.80" y="156.90" font-size="7.8" text-anchor="end" fill="#231f20">0.0</text>
<line x1="45.80" y1="141.19" x2="48.50" y2="141.19" stroke="#231f20" stroke-width="1"/>
<text x="42.80" y="143.69" font-size="7.8" text-anchor="end" fill="#231f20">0.1</text>
<line x1="45.80" y1="127.98" x2="48.50" y2="127.98" stroke="#231f20" stroke-width="1"/>
<text x="42.80" y="130.48" font-size="7.8" text-anchor="end" fill="#231f20">0.2</text>
<line x1="45.80" y1="114.77" x2="48.50" y2="114.77" stroke="#231f20" stroke-width="1"/>
<text x="42.80" y="117.27" font-size="7.8" text-anchor="end" fill="#231f20">0.3</text>
<line x1="45.80" y1="101.56" x2="48.50" y2="101.56" stroke="#231f20" stroke-width="1"/>
<text x="42.80" y="104.06" font-size="7.8" text-anchor="end" fill="#231f20">0.4</text>
<line x1="45.80" y1="88.35" x2="48.50" y2="88.35" stroke="#231f20" stroke-width="1"/>
<text x="42.80" y="90.85" font-size="7.8" text-anchor="end" fill="#231f20">0.5</text>
<line x1="45.80" y1="75.14" x2="48.50" y2="75.14" stroke="#231f20" stroke-width="1"/>
<text x="42.80" y="77.64" font-size="7.8" text-anchor="end" fill="#231f20">0.6</text>
<line x1="45.80" y1="61.93" x2="48.50" y2="61.93" stroke="#231f20" stroke-width="1"/>
<text x="42.80" y="64.43" font-size="7.8" text-anchor="end" fill="#231f20">0.7</text>
<line x1="45.80" y1="48.72" x2="48.50" y2="48.72" stroke="#231f20" stroke-width="1"/>
<text x="42.80" y="51.22" font-size="7.8" text-anchor="end" fill="#231f20">0.8</text>
<line x1="45.80" y1="35.51" x2="48.50" y2="35.51" stroke="#231f20" stroke-width="1"/>
<text x="42.80" y="38.01" font-size="7.8" text-anchor="end" fill="#231f20">0.9</text>
<line x1="45.80" y1="22.30" x2="48.50" y2="22.30" stroke="#231f20" stroke-width="1"/>
<text x="42.80" y="24.80" font-size="7.8" text-anchor="end" fill="#231f20">1.0</text>
<line x1="48.50" y1="154.40" x2="48.50" y2="157.20" stroke="#231f20" stroke-width="1"/>
<text x="48.80" y="166.8" font-size="7.8" text-anchor="middle" fill="#231f20">0</text>
<line x1="63.60" y1="154.40" x2="63.60" y2="157.20" stroke="#231f20" stroke-width="1"/>
<text x="63.90" y="166.8" font-size="7.8" text-anchor="middle" fill="#231f20">12</text>
<line x1="78.70" y1="154.40" x2="78.70" y2="157.20" stroke="#231f20" stroke-width="1"/>
<text x="79.00" y="166.8" font-size="7.8" text-anchor="middle" fill="#231f20">24</text>
<line x1="93.80" y1="154.40" x2="93.80" y2="157.20" stroke="#231f20" stroke-width="1"/>
<text x="94.10" y="166.8" font-size="7.8" text-anchor="middle" fill="#231f20">36</text>
<line x1="108.90" y1="154.40" x2="108.90" y2="157.20" stroke="#231f20" stroke-width="1"/>
<text x="109.20" y="166.8" font-size="7.8" text-anchor="middle" fill="#231f20">48</text>
<line x1="124.00" y1="154.40" x2="124.00" y2="157.20" stroke="#231f20" stroke-width="1"/>
<text x="124.30" y="166.8" font-size="7.8" text-anchor="middle" fill="#231f20">60</text>
<line x1="139.10" y1="154.40" x2="139.10" y2="157.20" stroke="#231f20" stroke-width="1"/>
<text x="139.40" y="166.8" font-size="7.8" text-anchor="middle" fill="#231f20">72</text>
<line x1="154.20" y1="154.40" x2="154.20" y2="157.20" stroke="#231f20" stroke-width="1"/>
<text x="154.50" y="166.8" font-size="7.8" text-anchor="middle" fill="#231f20">84</text>
<line x1="169.30" y1="154.40" x2="169.30" y2="157.20" stroke="#231f20" stroke-width="1"/>
<text x="169.60" y="166.8" font-size="7.8" text-anchor="middle" fill="#231f20">96</text>
<line x1="184.40" y1="154.40" x2="184.40" y2="157.20" stroke="#231f20" stroke-width="1"/>
<text x="184.70" y="166.8" font-size="7.8" text-anchor="middle" fill="#231f20">108</text>
<line x1="199.50" y1="154.40" x2="199.50" y2="157.20" stroke="#231f20" stroke-width="1"/>
<text x="199.80" y="166.8" font-size="7.8" text-anchor="middle" fill="#231f20">120</text>
<line x1="214.60" y1="154.40" x2="214.60" y2="157.20" stroke="#231f20" stroke-width="1"/>
<text x="214.90" y="166.8" font-size="7.8" text-anchor="middle" fill="#231f20">132</text>
<line x1="229.70" y1="154.40" x2="229.70" y2="157.20" stroke="#231f20" stroke-width="1"/>
<text x="230.00" y="166.8" font-size="7.8" text-anchor="middle" fill="#231f20">144</text>
<line x1="244.79" y1="154.40" x2="244.79" y2="157.20" stroke="#231f20" stroke-width="1"/>
<text x="245.09" y="166.8" font-size="7.8" text-anchor="middle" fill="#231f20">156</text>
<text x="95.10" y="179.8" font-size="8.7" textLength="103.00" lengthAdjust="spacingAndGlyphs" fill="#231f20" class="t2">Time from study inclusion (months)</text>
<text transform="translate(25.60 87.85) rotate(-90)" x="0" y="0" font-size="8.7" text-anchor="middle" textLength="71.3" lengthAdjust="spacingAndGlyphs" fill="#231f20" class="t2">Progression-free survival</text>
<line x1="65.4" y1="114.0" x2="75.9" y2="114.0" stroke="#3f5888" stroke-width="1.1"/>
<line x1="65.0" y1="132.6" x2="75.9" y2="132.6" stroke="#c83c64" stroke-width="1.1"/>
<text x="79.2" y="111.7" font-size="7.2" fill="#231f20">R-CHO(E)P</text>
<text x="79.2" y="120.2" font-size="7.2" fill="#231f20">(n = 382)</text>
<text x="79.2" y="130.7" font-size="7.2" fill="#231f20">R-ACVBP</text>
<text x="79.2" y="139.2" font-size="7.2" fill="#231f20">(n = 245)</text>
<text x="186.4" y="138.8" font-size="7.9" font-style="italic" fill="#231f20">P</text>
<path d="M193.0 135.4h6.4M193.0 137.2h6.4" stroke="#231f20" stroke-width="0.9"/>
<text x="200.5" y="138.8" font-size="7.9" fill="#231f20">.192</text>
<text x="7.40" y="184.8" font-size="7" fill="#231f20">No. at risk</text>
<text x="7.40" y="193.5" font-size="7.25" fill="#231f20">R-CHO(E)P</text>
<text x="7.40" y="202.9" font-size="7.25" fill="#231f20">R-ACVBP</text>
<text x="62.15" y="191.7" font-size="7.5" text-anchor="middle" fill="#231f20">299</text>
<text x="77.22" y="191.7" font-size="7.5" text-anchor="middle" fill="#231f20">228</text>
<text x="92.28" y="191.7" font-size="7.5" text-anchor="middle" fill="#231f20">165</text>
<text x="107.34" y="191.7" font-size="7.5" text-anchor="middle" fill="#231f20">79</text>
<text x="122.41" y="191.7" font-size="7.5" text-anchor="middle" fill="#231f20">36</text>
<text x="137.47" y="191.7" font-size="7.5" text-anchor="middle" fill="#231f20">7</text>
<text x="152.54" y="191.7" font-size="7.5" text-anchor="middle" fill="#231f20">2</text>
<text x="167.60" y="191.7" font-size="7.5" text-anchor="middle" fill="#231f20">0</text>
<text x="182.67" y="191.7" font-size="7.5" text-anchor="middle" fill="#231f20">0</text>
<text x="197.74" y="191.7" font-size="7.5" text-anchor="middle" fill="#231f20">0</text>
<text x="212.80" y="191.7" font-size="7.5" text-anchor="middle" fill="#231f20">0</text>
<text x="227.87" y="191.7" font-size="7.5" text-anchor="middle" fill="#231f20">0</text>
<text x="242.93" y="191.7" font-size="7.5" text-anchor="middle" fill="#231f20">0</text>
<text x="62.15" y="203.0" font-size="7.5" text-anchor="middle" fill="#231f20">204</text>
<text x="77.22" y="203.0" font-size="7.5" text-anchor="middle" fill="#231f20">190</text>
<text x="92.28" y="203.0" font-size="7.5" text-anchor="middle" fill="#231f20">172</text>
<text x="107.34" y="203.0" font-size="7.5" text-anchor="middle" fill="#231f20">66</text>
<text x="122.41" y="203.0" font-size="7.5" text-anchor="middle" fill="#231f20">1</text>
<text x="137.47" y="203.0" font-size="7.5" text-anchor="middle" fill="#231f20">0</text>
<text x="152.54" y="203.0" font-size="7.5" text-anchor="middle" fill="#231f20">0</text>
<text x="167.60" y="203.0" font-size="7.5" text-anchor="middle" fill="#231f20">0</text>
<text x="182.67" y="203.0" font-size="7.5" text-anchor="middle" fill="#231f20">0</text>
<text x="197.74" y="203.0" font-size="7.5" text-anchor="middle" fill="#231f20">0</text>
<text x="212.80" y="203.0" font-size="7.5" text-anchor="middle" fill="#231f20">0</text>
<text x="227.87" y="203.0" font-size="7.5" text-anchor="middle" fill="#231f20">0</text>
<text x="242.93" y="203.0" font-size="7.5" text-anchor="middle" fill="#231f20">0</text>
</g>
<path d="M48.9 452.7 L51.8 457.0 L55.7 462.4 L58.4 467.4 L60.7 471.2 L62.5 473.6 L65.2 475.6 L68.1 477.2 L71.0 478.3 L73.9 479.3 L75.8 480.8 L77.7 483.7 L80.6 485.4 L84.5 486.1 L89.3 486.3 L92.2 487.0 L96.0 487.6 L106.8 487.8 L110.2 491.5 L114.2 492.4 L120.9 493.2 L123.6 494.8 L125.6 496.9 L127.6 498.9 L160.0 499.2" fill="none" stroke="#123d78" stroke-width="1.20" stroke-linejoin="round"/>
<path d="M70.00 476.47v2.90M72.00 477.19v2.90M74.00 477.93v2.90M76.00 479.66v2.90M78.00 482.43v2.90M80.00 483.60v2.90M82.00 484.20v2.90M84.00 484.56v2.90M86.00 484.71v2.90M88.00 484.80v2.90M90.00 485.02v2.90M92.00 485.50v2.90M94.00 485.83v2.90M96.00 486.15v2.90M98.00 486.19v2.90M100.00 486.22v2.90M102.00 486.26v2.90M104.00 486.30v2.90M106.00 486.34v2.90M108.00 487.66v2.90M110.00 489.83v2.90M112.00 490.45v2.90M114.00 490.90v2.90M116.00 491.16v2.90M118.00 491.40v2.90M120.00 491.64v2.90M122.00 492.40v2.90M124.00 493.77v2.90M126.00 495.85v2.90M128.00 497.45v2.90M130.00 497.47v2.90M133.40 497.50v2.90M136.80 497.54v2.90M140.20 497.57v2.90M143.60 497.60v2.90M147.00 497.63v2.90M150.40 497.66v2.90M153.80 497.69v2.90M157.20 497.72v2.90" fill="none" stroke="#123d78" stroke-width="1.40"/>
<path d="M48.9 452.7 L51.8 457.0 L55.7 462.4 L58.4 467.4 L60.7 471.2 L62.5 473.6 L65.2 475.6 L68.1 477.2 L71.0 478.3 L73.9 479.3 L76.8 479.6 L79.7 479.8 L82.5 480.8 L85.4 481.3 L96.0 481.6 L126.3 482.1" fill="none" stroke="#c0102c" stroke-width="1.20" stroke-linejoin="round"/>
<path d="M74.00 477.86v2.90M75.80 478.05v2.90M77.60 478.21v2.90M79.40 478.33v2.90M81.20 478.89v2.90M83.00 479.44v2.90M84.80 479.75v2.90M86.60 479.88v2.90M88.40 479.93v2.90M90.20 479.99v2.90M92.00 480.04v2.90M93.80 480.09v2.90M95.60 480.14v2.90M97.40 480.17v2.90M99.20 480.20v2.90M101.00 480.23v2.90M102.80 480.26v2.90M104.60 480.29v2.90M106.40 480.32v2.90M108.20 480.35v2.90M110.00 480.38v2.90M111.80 480.41v2.90M113.60 480.44v2.90M115.40 480.47v2.90M117.20 480.50v2.90M119.00 480.53v2.90M120.80 480.56v2.90M122.60 480.59v2.90M124.40 480.62v2.90" fill="none" stroke="#c0102c" stroke-width="1.40"/>
<path d="M48.9 452.7 L51.8 457.0 L55.7 462.4 L58.4 467.4 L60.7 471.2 L62.5 473.6 L65.2 475.6 L68.1 477.2 L71.0 478.3 L73.5 479.2" fill="none" stroke="#5a1232" stroke-width="1.40" stroke-linejoin="round"/>
<g transform="translate(261.40 430.50)">
<text x="7.70" y="15.30" font-size="11.5" font-weight="bold" fill="#000" class="pl">F</text>
<path d="M48.50 19.30 V154.40 H247.79" fill="none" stroke="#231f20" stroke-width="1.1"/>
<line x1="45.80" y1="154.40" x2="48.50" y2="154.40" stroke="#231f20" stroke-width="1"/>
<text x="42.60" y="156.90" font-size="7.8" text-anchor="end" fill="#231f20">0.0</text>
<line x1="45.80" y1="141.19" x2="48.50" y2="141.19" stroke="#231f20" stroke-width="1"/>
<text x="42.60" y="143.69" font-size="7.8" text-anchor="end" fill="#231f20">0.1</text>
<line x1="45.80" y1="127.98" x2="48.50" y2="127.98" stroke="#231f20" stroke-width="1"/>
<text x="42.60" y="130.48" font-size="7.8" text-anchor="end" fill="#231f20">0.2</text>
<line x1="45.80" y1="114.77" x2="48.50" y2="114.77" stroke="#231f20" stroke-width="1"/>
<text x="42.60" y="117.27" font-size="7.8" text-anchor="end" fill="#231f20">0.3</text>
<line x1="45.80" y1="101.56" x2="48.50" y2="101.56" stroke="#231f20" stroke-width="1"/>
<text x="42.60" y="104.06" font-size="7.8" text-anchor="end" fill="#231f20">0.4</text>
<line x1="45.80" y1="88.35" x2="48.50" y2="88.35" stroke="#231f20" stroke-width="1"/>
<text x="42.60" y="90.85" font-size="7.8" text-anchor="end" fill="#231f20">0.5</text>
<line x1="45.80" y1="75.14" x2="48.50" y2="75.14" stroke="#231f20" stroke-width="1"/>
<text x="42.60" y="77.64" font-size="7.8" text-anchor="end" fill="#231f20">0.6</text>
<line x1="45.80" y1="61.93" x2="48.50" y2="61.93" stroke="#231f20" stroke-width="1"/>
<text x="42.60" y="64.43" font-size="7.8" text-anchor="end" fill="#231f20">0.7</text>
<line x1="45.80" y1="48.72" x2="48.50" y2="48.72" stroke="#231f20" stroke-width="1"/>
<text x="42.60" y="51.22" font-size="7.8" text-anchor="end" fill="#231f20">0.8</text>
<line x1="45.80" y1="35.51" x2="48.50" y2="35.51" stroke="#231f20" stroke-width="1"/>
<text x="42.60" y="38.01" font-size="7.8" text-anchor="end" fill="#231f20">0.9</text>
<line x1="45.80" y1="22.30" x2="48.50" y2="22.30" stroke="#231f20" stroke-width="1"/>
<text x="42.60" y="24.80" font-size="7.8" text-anchor="end" fill="#231f20">1.0</text>
<line x1="48.50" y1="154.40" x2="48.50" y2="157.20" stroke="#231f20" stroke-width="1"/>
<text x="48.80" y="166.8" font-size="7.8" text-anchor="middle" fill="#231f20">0</text>
<line x1="63.60" y1="154.40" x2="63.60" y2="157.20" stroke="#231f20" stroke-width="1"/>
<text x="63.90" y="166.8" font-size="7.8" text-anchor="middle" fill="#231f20">12</text>
<line x1="78.70" y1="154.40" x2="78.70" y2="157.20" stroke="#231f20" stroke-width="1"/>
<text x="79.00" y="166.8" font-size="7.8" text-anchor="middle" fill="#231f20">24</text>
<line x1="93.80" y1="154.40" x2="93.80" y2="157.20" stroke="#231f20" stroke-width="1"/>
<text x="94.10" y="166.8" font-size="7.8" text-anchor="middle" fill="#231f20">36</text>
<line x1="108.90" y1="154.40" x2="108.90" y2="157.20" stroke="#231f20" stroke-width="1"/>
<text x="109.20" y="166.8" font-size="7.8" text-anchor="middle" fill="#231f20">48</text>
<line x1="124.00" y1="154.40" x2="124.00" y2="157.20" stroke="#231f20" stroke-width="1"/>
<text x="124.30" y="166.8" font-size="7.8" text-anchor="middle" fill="#231f20">60</text>
<line x1="139.10" y1="154.40" x2="139.10" y2="157.20" stroke="#231f20" stroke-width="1"/>
<text x="139.40" y="166.8" font-size="7.8" text-anchor="middle" fill="#231f20">72</text>
<line x1="154.20" y1="154.40" x2="154.20" y2="157.20" stroke="#231f20" stroke-width="1"/>
<text x="154.50" y="166.8" font-size="7.8" text-anchor="middle" fill="#231f20">84</text>
<line x1="169.30" y1="154.40" x2="169.30" y2="157.20" stroke="#231f20" stroke-width="1"/>
<text x="169.60" y="166.8" font-size="7.8" text-anchor="middle" fill="#231f20">96</text>
<line x1="184.40" y1="154.40" x2="184.40" y2="157.20" stroke="#231f20" stroke-width="1"/>
<text x="184.70" y="166.8" font-size="7.8" text-anchor="middle" fill="#231f20">108</text>
<line x1="199.50" y1="154.40" x2="199.50" y2="157.20" stroke="#231f20" stroke-width="1"/>
<text x="199.80" y="166.8" font-size="7.8" text-anchor="middle" fill="#231f20">120</text>
<line x1="214.60" y1="154.40" x2="214.60" y2="157.20" stroke="#231f20" stroke-width="1"/>
<text x="214.90" y="166.8" font-size="7.8" text-anchor="middle" fill="#231f20">132</text>
<line x1="229.70" y1="154.40" x2="229.70" y2="157.20" stroke="#231f20" stroke-width="1"/>
<text x="230.00" y="166.8" font-size="7.8" text-anchor="middle" fill="#231f20">144</text>
<line x1="244.79" y1="154.40" x2="244.79" y2="157.20" stroke="#231f20" stroke-width="1"/>
<text x="245.09" y="166.8" font-size="7.8" text-anchor="middle" fill="#231f20">156</text>
<text x="94.90" y="179.8" font-size="8.7" textLength="103.60" lengthAdjust="spacingAndGlyphs" fill="#231f20" class="t2">Time from study inclusion (months)</text>
<text transform="translate(26.00 87.85) rotate(-90)" x="0" y="0" font-size="8.7" text-anchor="middle" textLength="43.3" lengthAdjust="spacingAndGlyphs" fill="#231f20" class="t2">Overall survival</text>
<line x1="65.4" y1="114.0" x2="75.9" y2="114.0" stroke="#3f5888" stroke-width="1.1"/>
<line x1="65.0" y1="132.6" x2="75.9" y2="132.6" stroke="#c83c64" stroke-width="1.1"/>
<text x="79.2" y="111.7" font-size="7.2" fill="#231f20">R-CHO(E)P</text>
<text x="79.2" y="120.2" font-size="7.2" fill="#231f20">(n = 382)</text>
<text x="79.2" y="130.7" font-size="7.2" fill="#231f20">R-ACVBP</text>
<text x="79.2" y="139.2" font-size="7.2" fill="#231f20">(n = 245)</text>
<text x="186.4" y="138.8" font-size="7.9" font-style="italic" fill="#231f20">P</text>
<path d="M193.0 135.4h6.4M193.0 137.2h6.4" stroke="#231f20" stroke-width="0.9"/>
<text x="200.5" y="138.8" font-size="7.9" fill="#231f20">.764</text>
<text x="7.20" y="184.8" font-size="7" fill="#231f20">No. at risk</text>
<text x="7.20" y="193.5" font-size="7.25" fill="#231f20">R-CHO(E)P</text>
<text x="7.20" y="202.9" font-size="7.25" fill="#231f20">R-ACVBP</text>
<text x="62.05" y="191.7" font-size="7.5" text-anchor="middle" fill="#231f20">332</text>
<text x="77.11" y="191.7" font-size="7.5" text-anchor="middle" fill="#231f20">257</text>
<text x="92.18" y="191.7" font-size="7.5" text-anchor="middle" fill="#231f20">191</text>
<text x="107.25" y="191.7" font-size="7.5" text-anchor="middle" fill="#231f20">94</text>
<text x="122.31" y="191.7" font-size="7.5" text-anchor="middle" fill="#231f20">41</text>
<text x="137.38" y="191.7" font-size="7.5" text-anchor="middle" fill="#231f20">10</text>
<text x="152.44" y="191.7" font-size="7.5" text-anchor="middle" fill="#231f20">3</text>
<text x="167.50" y="191.7" font-size="7.5" text-anchor="middle" fill="#231f20">0</text>
<text x="182.57" y="191.7" font-size="7.5" text-anchor="middle" fill="#231f20">0</text>
<text x="197.63" y="191.7" font-size="7.5" text-anchor="middle" fill="#231f20">0</text>
<text x="212.70" y="191.7" font-size="7.5" text-anchor="middle" fill="#231f20">0</text>
<text x="227.76" y="191.7" font-size="7.5" text-anchor="middle" fill="#231f20">0</text>
<text x="242.83" y="191.7" font-size="7.5" text-anchor="middle" fill="#231f20">0</text>
<text x="62.05" y="203.0" font-size="7.5" text-anchor="middle" fill="#231f20">217</text>
<text x="77.11" y="203.0" font-size="7.5" text-anchor="middle" fill="#231f20">199</text>
<text x="92.18" y="203.0" font-size="7.5" text-anchor="middle" fill="#231f20">180</text>
<text x="107.25" y="203.0" font-size="7.5" text-anchor="middle" fill="#231f20">69</text>
<text x="122.31" y="203.0" font-size="7.5" text-anchor="middle" fill="#231f20">1</text>
<text x="137.38" y="203.0" font-size="7.5" text-anchor="middle" fill="#231f20">0</text>
<text x="152.44" y="203.0" font-size="7.5" text-anchor="middle" fill="#231f20">0</text>
<text x="167.50" y="203.0" font-size="7.5" text-anchor="middle" fill="#231f20">0</text>
<text x="182.57" y="203.0" font-size="7.5" text-anchor="middle" fill="#231f20">0</text>
<text x="197.63" y="203.0" font-size="7.5" text-anchor="middle" fill="#231f20">0</text>
<text x="212.70" y="203.0" font-size="7.5" text-anchor="middle" fill="#231f20">0</text>
<text x="227.76" y="203.0" font-size="7.5" text-anchor="middle" fill="#231f20">0</text>
<text x="242.83" y="203.0" font-size="7.5" text-anchor="middle" fill="#231f20">0</text>
</g>
<path d="M310.4 452.4 L313.8 454.3 L316.7 456.3 L319.5 457.7 L322.0 459.6 L323.9 462.0 L325.3 464.9 L328.2 467.3 L331.1 469.2 L334.0 470.7 L336.8 471.6 L339.7 473.6 L342.6 474.8 L346.5 475.2 L367.8 475.4 L369.8 476.8 L373.8 478.1 L379.2 479.5 L381.9 481.5 L384.6 482.8 L387.3 485.5 L390.0 487.3 L421.0 487.5" fill="none" stroke="#123d78" stroke-width="1.20" stroke-linejoin="round"/>
<path d="M314.00 452.99v2.90M316.00 454.37v2.90M318.00 455.50v2.90M320.00 456.63v2.90M322.00 458.15v2.90M324.00 460.76v2.90M326.00 464.03v2.90M330.00 467.03v2.90M332.20 468.32v2.90M334.40 469.38v2.90M336.60 470.09v2.90M338.80 471.53v2.90M341.00 472.69v2.90M343.20 473.41v2.90M345.40 473.64v2.90M347.60 473.76v2.90M349.80 473.78v2.90M352.00 473.80v2.90M354.20 473.82v2.90M356.40 473.84v2.90M358.60 473.86v2.90M360.80 473.88v2.90M363.00 473.90v2.90M365.20 473.93v2.90M367.40 473.95v2.90M369.60 475.21v2.90M371.80 476.00v2.90M374.00 476.70v2.90M376.20 477.27v2.90M378.40 477.84v2.90M380.60 479.09v2.90M382.80 480.48v2.90M385.00 481.75v2.90M387.20 483.95v2.90M391.00 485.86v2.90M395.00 485.88v2.90M399.00 485.91v2.90M403.00 485.93v2.90M407.00 485.96v2.90M411.00 485.99v2.90M415.00 486.01v2.90M419.00 486.04v2.90" fill="none" stroke="#123d78" stroke-width="1.40"/>
<path d="M310.4 452.4 L312.8 455.8 L315.7 459.1 L318.6 462.5 L320.5 464.2 L323.4 465.4 L326.3 467.3 L329.2 469.2 L332.0 471.6 L334.9 473.1 L338.8 474.5 L342.6 475.8 L346.5 476.4 L351.3 476.9 L358.0 477.2 L367.1 477.4 L369.8 478.6 L387.3 479.1" fill="none" stroke="#c0102c" stroke-width="1.20" stroke-linejoin="round"/>
<path d="M330.00 468.44v2.90M332.20 470.25v2.90M334.40 471.39v2.90M336.60 472.26v2.90M338.80 473.05v2.90M341.00 473.80v2.90M343.20 474.44v2.90M345.40 474.78v2.90M347.60 475.06v2.90M349.80 475.29v2.90M352.00 475.48v2.90M354.20 475.58v2.90M356.40 475.68v2.90M358.60 475.76v2.90M360.80 475.81v2.90M363.00 475.86v2.90M365.20 475.91v2.90M367.40 476.08v2.90M369.60 477.06v2.90M371.80 477.21v2.90M374.00 477.27v2.90M376.20 477.33v2.90M378.40 477.40v2.90M380.60 477.46v2.90M382.80 477.52v2.90M385.00 477.58v2.90" fill="none" stroke="#c0102c" stroke-width="1.40"/>
<rect x="0.5" y="0.5" width="519" height="640" fill="none" stroke="#646464" stroke-width="1"/>
</svg></body></html>
